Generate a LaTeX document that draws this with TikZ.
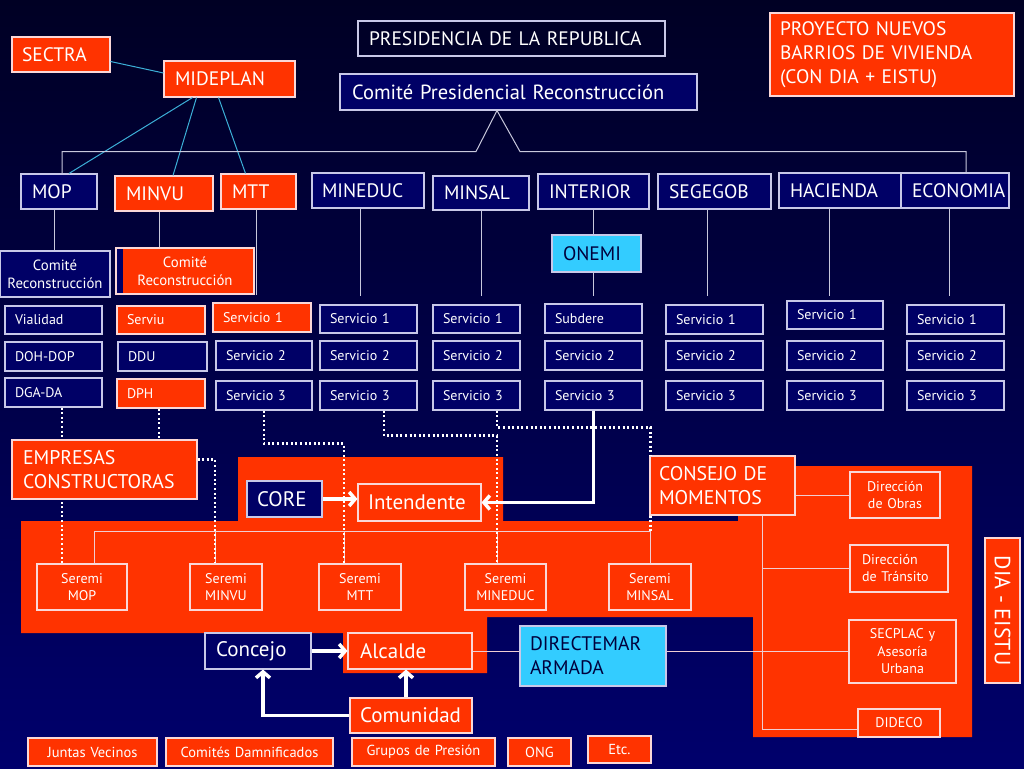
\documentclass[tikz,border=0pt]{standalone}
\usepackage{fontspec}
\setmainfont{PT Sans}
\usetikzlibrary{arrows.meta,calc}
\definecolor{orng}{RGB}{255,51,0}
\definecolor{navbox}{RGB}{0,0,102}
\definecolor{bordl}{RGB}{200,200,232}
\definecolor{bordo}{RGB}{250,215,215}
\definecolor{cyanb}{RGB}{51,204,255}
\definecolor{cyl}{RGB}{60,175,215}
\definecolor{bgtop}{RGB}{0,0,36}
\definecolor{bgbot}{RGB}{0,0,108}
\definecolor{dtext}{RGB}{0,0,60}
\definecolor{lgray}{RGB}{200,200,220}
\definecolor{lpink}{RGB}{240,205,210}
\newcommand\bx[8]{%
  \pgfmathsetmacro\bxh{#5-#3}%
  \pgfmathsetmacro\bxt{#4-#2-2*#6}%
  \pgfmathsetmacro\bxcx{(#2+#4)/2}%
  \pgfmathsetmacro\bxcy{(#3+#5)/2}%
  \node[#7, inner xsep=#6pt, text width=\bxt pt, minimum height=\bxh pt] (#1) at (\bxcx,\bxcy) {#8};}
\begin{document}
\begin{tikzpicture}[x=1pt,y=-1pt,
  bxs/.style={draw, line width=1.1pt, inner ysep=0pt},
  nb/.style={bxs, fill=navbox, draw=bordl, text=white},
  ob/.style={bxs, fill=orng, draw=bordo, text=white},
  cb/.style={bxs, fill=cyanb, draw=bordl, text=dtext},
  db/.style={bxs, draw=bordl, text=white},
  fbig/.style={font=\fontsize{19.5}{23}\selectfont, align=left},
  fmin/.style={font=\fontsize{19.5}{22}\selectfont, align=left},
  fmid/.style={font=\fontsize{21}{25}\selectfont, align=left},
  fsm/.style={font=\fontsize{14}{17}\selectfont, align=left},
  fsmc/.style={font=\fontsize{14}{17.5}\selectfont, align=center},
  fbot/.style={font=\fontsize{14.5}{17}\selectfont, align=center},
  strip/.style={path picture={\fill[navbox] (path picture bounding box.north west) rectangle ([xshift=7pt]path picture bounding box.south west);}},
  gline/.style={draw=lgray, line width=1pt},
  bline/.style={draw=lpink, line width=1pt},
  cline/.style={draw=cyl, line width=1pt},
  dotl/.style={draw=white, line width=2.2pt, dash pattern=on 2pt off 2.6pt},
  warr/.style={draw=white, line width=3.5pt, -{Straight Barb[length=6pt,width=14pt]}}
]
\shade[top color=bgtop, bottom color=bgbot] (0,0) rectangle (1024,768);
\useasboundingbox (0,0) rectangle (1024,768);
% orange background region
\fill[orng] (21,521) -- (238,521) -- (238,457) -- (503,457) -- (503,521) -- (738,521) -- (738,466) -- (972,466) -- (972,737) -- (753,737) -- (753,617) -- (487,617) -- (487,673) -- (343,673) -- (343,633) -- (21,633) -- cycle;

% top
\bx{sectra}{12}{37}{110}{72}{10}{ob,fbig}{SECTRA}
\bx{mideplan}{164}{61}{295}{97}{11}{ob,fbig}{MIDEPLAN}
\bx{pres}{358}{21}{665}{56}{11}{db,fbig}{PRESIDENCIA DE LA REPUBLICA}
\bx{cpr}{340}{74}{697}{110}{12}{nb,font=\fontsize{20.5}{24}\selectfont,align=left}{Comité Presidencial Reconstrucción}
\bx{proy}{770}{13}{1014}{96}{10}{ob,font=\fontsize{19.5}{24}\selectfont,align=left}{PROYECTO NUEVOS\\BARRIOS DE VIVIENDA\\(CON DIA + EISTU)}

% ministries
\bx{mop}{21}{174}{97}{209}{11}{nb,fmin}{MOP}
\bx{minvu}{115}{176}{213}{211}{11}{ob,fmin}{MINVU}
\bx{mtt}{221}{174}{296}{209}{11}{ob,fmin}{MTT}
\bx{mineduc}{312}{173}{424}{208}{10}{nb,fmin}{MINEDUC}
\bx{minsal}{433}{176}{529}{210}{11}{nb,fmin}{MINSAL}
\bx{interior}{538}{174}{649}{209}{11}{nb,fmin}{INTERIOR}
\bx{segegob}{658}{174}{771}{209}{11}{nb,fmin}{SEGEGOB}
\bx{hacienda}{779}{173}{901}{208}{11}{nb,fmin}{HACIENDA}
\bx{economia}{901}{173}{1009}{208}{11}{nb,fmin}{ECONOMIA}

% comites
\bx{cra}{0}{251}{110}{297}{1}{nb,font=\fontsize{14.8}{18}\selectfont,align=center}{Comité\\Reconstrucción}
\bx{crb}{116}{248}{254}{294}{2}{ob,font=\fontsize{14.8}{18}\selectfont,align=center,strip}{Comité\\Reconstrucción}
\bx{onemi}{552}{235}{641}{272}{11}{cb,fbig}{ONEMI}

% services
\bx{vial}{5}{306}{102}{334}{10}{nb,fsm}{Vialidad}
\bx{doh}{5}{342}{102}{371}{10}{nb,fsm}{DOH-DOP}
\bx{dga}{5}{378}{102}{407}{10}{nb,fsm}{DGA-DA}
\bx{serviu}{117}{306}{205}{334}{10}{ob,fsm}{Serviu}
\bx{ddu}{118}{342}{207}{371}{10}{nb,fsm}{DDU}
\bx{dph}{117}{379}{205}{408}{10}{ob,fsm}{DPH}
\bx{mtta}{213}{303}{311}{332}{10}{ob,fsm}{Servicio 1}
\bx{mttb}{216}{341}{312}{370}{10}{nb,fsm}{Servicio 2}
\bx{mttc}{216}{381}{312}{410}{10}{nb,fsm}{Servicio 3}
\bx{meda}{320}{305}{417}{333}{10}{nb,fsm}{Servicio 1}
\bx{medb}{320}{341}{417}{370}{10}{nb,fsm}{Servicio 2}
\bx{medc}{320}{381}{417}{410}{10}{nb,fsm}{Servicio 3}
\bx{msla}{433}{305}{520}{333}{10}{nb,fsm}{Servicio 1}
\bx{mslb}{433}{341}{520}{370}{10}{nb,fsm}{Servicio 2}
\bx{mslc}{433}{381}{520}{410}{10}{nb,fsm}{Servicio 3}
\bx{inta}{545}{304}{642}{333}{10}{nb,fsm}{Subdere}
\bx{intb}{545}{341}{642}{370}{10}{nb,fsm}{Servicio 2}
\bx{intc}{545}{381}{642}{410}{10}{nb,fsm}{Servicio 3}
\bx{sega}{666}{305}{763}{334}{10}{nb,fsm}{Servicio 1}
\bx{segb}{666}{341}{763}{370}{10}{nb,fsm}{Servicio 2}
\bx{segc}{666}{381}{763}{410}{10}{nb,fsm}{Servicio 3}
\bx{haca}{787}{301}{883}{329}{10}{nb,fsm}{Servicio 1}
\bx{hacb}{787}{341}{883}{370}{10}{nb,fsm}{Servicio 2}
\bx{hacc}{787}{381}{883}{410}{10}{nb,fsm}{Servicio 3}
\bx{ecoa}{907}{305}{1004}{334}{10}{nb,fsm}{Servicio 1}
\bx{ecob}{907}{341}{1004}{370}{10}{nb,fsm}{Servicio 2}
\bx{ecoc}{907}{381}{1004}{410}{10}{nb,fsm}{Servicio 3}

% middle
\bx{emp}{12}{440}{197}{499}{11}{ob,font=\fontsize{19.8}{23.5}\selectfont,align=left}{EMPRESAS\\CONSTRUCTORAS}
\bx{core}{247}{481}{322}{517}{10}{nb,fmid}{CORE}
\bx{inten}{358}{484}{481}{521}{10}{ob,fmid}{Intendente}
\bx{consejo}{650}{456}{795}{515}{9}{ob,font=\fontsize{19.8}{23.5}\selectfont,align=left}{CONSEJO DE\\MOMENTOS}

% seremis
\bx{smop}{37}{564}{127}{610}{2}{ob,fsmc}{Seremi\\MOP}
\bx{smvu}{190}{564}{262}{610}{2}{ob,fsmc}{Seremi\\MINVU}
\bx{smtt}{319}{564}{401}{610}{2}{ob,fsmc}{Seremi\\MTT}
\bx{smed}{465}{564}{546}{610}{2}{ob,fsmc}{Seremi\\MINEDUC}
\bx{smsl}{609}{564}{691}{610}{2}{ob,fsmc}{Seremi\\MINSAL}

% right region
\bx{obras}{850}{472}{940}{518}{2}{ob,fsmc}{Dirección\\de Obras}
\bx{tran}{850}{545}{948}{592}{12}{ob,fsm}{Dirección\\de Tránsito}
\bx{secplac}{849}{620}{956}{683}{2}{ob,fsmc}{SECPLAC y\\Asesoría\\Urbana}
\bx{dideco}{858}{709}{940}{737}{2}{ob,fsmc}{DIDECO}
\node[ob, rotate=-90, minimum width=145pt, minimum height=35pt, inner sep=0pt, font=\fontsize{22}{26}\selectfont] (dia) at (1002.5,610.5) {DIA - EISTU};

% bottom
\bx{dirm}{520}{626}{666}{686}{10}{cb,font=\fontsize{19.6}{24}\selectfont,align=left}{DIRECTEMAR\\ARMADA}
\bx{concejo}{205}{633}{311}{669}{11}{nb,fmid}{Concejo}
\bx{alcalde}{348}{633}{472}{669}{12}{ob,fmid}{Alcalde}
\bx{comun}{350}{698}{472}{733}{10}{ob,fmid}{Comunidad}
\bx{juntas}{28}{738}{157}{766}{2}{ob,fbot}{Juntas Vecinos}
\bx{damn}{166}{738}{333}{766}{2}{ob,fbot}{Comités Damnificados}
\bx{grupos}{352}{738}{495}{766}{2}{ob,fbot}{Grupos de Presión}
\bx{ong}{508}{738}{571}{766}{2}{ob,fbot}{ONG}
\bx{etc}{588}{736}{651}{763}{2}{ob,fbot}{Etc.}

% cyan connectors
\draw[cline] ([yshift=-7pt]sectra.east) -- ([yshift=6pt]mideplan.west);
\draw[cline] ([xshift=-37pt]mideplan.south) -- ([xshift=10pt]mop.north);
\draw[cline] ([xshift=-33pt]mideplan.south) -- ([xshift=9pt]minvu.north);
\draw[cline] ([xshift=-11pt]mideplan.south) -- ([xshift=-13pt]mtt.north);

% presidential tree
\coordinate (apex) at ([xshift=-21.5pt]cpr.south);
\draw[gline] ([xshift=3pt]mop.north) |- ($(apex)+(-21,41)$) -- (apex) -- ($(apex)+(23,41)$) -| ([xshift=11pt]economia.north);

% drops
\draw[gline] ([xshift=-5pt]mop.south) -- ([xshift=-5pt]mop.south |- cra.north);
\draw[gline] ([xshift=-5pt]minvu.south) -- ([xshift=-5pt]minvu.south |- crb.north);
\draw[gline] ([xshift=-2pt]mtt.south) -- ([xshift=-2pt]mtt.south |- crb.south);
\draw[gline, shorten >=8pt] ([xshift=-8pt]mineduc.south) -- ([xshift=-8pt]mineduc.south |- meda.north);
\draw[gline, shorten >=8pt] (minsal.south) -- (minsal.south |- msla.north);
\draw[gline] (interior.south) -- (interior.south |- onemi.north);
\draw[gline, shorten >=7pt] (interior.south |- onemi.south) -- (interior.south |- inta.north);
\draw[gline, shorten >=8pt] ([xshift=-7.5pt]segegob.south) -- ([xshift=-7.5pt]segegob.south |- sega.north);
\draw[gline, shorten >=4pt] ([xshift=-11pt]hacienda.south) -- ([xshift=-11pt]hacienda.south |- haca.north);
\draw[gline, shorten >=8pt] ([xshift=-6pt]economia.south) -- ([xshift=-6pt]economia.south |- ecoa.north);

% seremi band
\draw[bline] ([xshift=12pt]smop.north) -- ++(0,-32) -| (smsl.north);
\draw[bline] ([xshift=-11pt]smvu.north) -- ++(0,-32);
\draw[bline] ([xshift=-16pt]smtt.north) -- ++(0,-32);
\draw[bline] ([xshift=-8.5pt]smed.north) -- ++(0,-32);

% dotted links
\draw[dotl] ([xshift=8.5pt]dga.south) -- ([xshift=8.5pt]dga.south |- emp.north);
\draw[dotl] ([xshift=-20pt]smop.north) -- ([xshift=-20pt]smop.north |- emp.south);
\draw[dotl] ([xshift=-2pt]dph.south) -- ([xshift=-2pt]dph.south |- emp.north);
\draw[dotl] ([yshift=10pt]emp.east) -| ([xshift=-11pt]smvu.north);
\draw[dotl] (mttc.south) -- ++(0,33) -| ([xshift=-16pt]smtt.north);
\draw[dotl] ([xshift=15.5pt]medc.south) -- ++(0,25) -| ([xshift=-8.5pt]smed.north);
\draw[dotl] ([xshift=20.5pt]mslc.south) -- ++(0,17) -| ([xshift=-72pt]consejo.north);
\draw[dotl] ([xshift=-72pt]consejo.south) -- ++(0,17);

% consejo tree
\coordinate (vl) at ([xshift=39.5pt]consejo.south);
\draw[bline] (consejo.east |- obras.west) -- (obras.west);
\draw[bline] (vl) |- ([yshift=-6pt]dideco.west);
\draw[bline] (tran.west) -- (tran.west -| vl);
\draw[bline] (alcalde.east) -- (alcalde.east -| dirm.west);
\draw[bline] (dirm.east |- alcalde.east) -- (secplac.west |- alcalde.east);

% white arrows
\draw[warr] (core.east) -- (core.east -| inten.west);
\draw[warr] (intc.south) |- (inten.east);
\draw[warr] (concejo.east) -- (concejo.east -| alcalde.west);
\draw[warr] ([xshift=-5pt]comun.north) -- ([xshift=-5pt]comun.north |- alcalde.south);
\draw[warr] (comun.west) -| ([xshift=5pt]concejo.south);
\end{tikzpicture}
\end{document}
